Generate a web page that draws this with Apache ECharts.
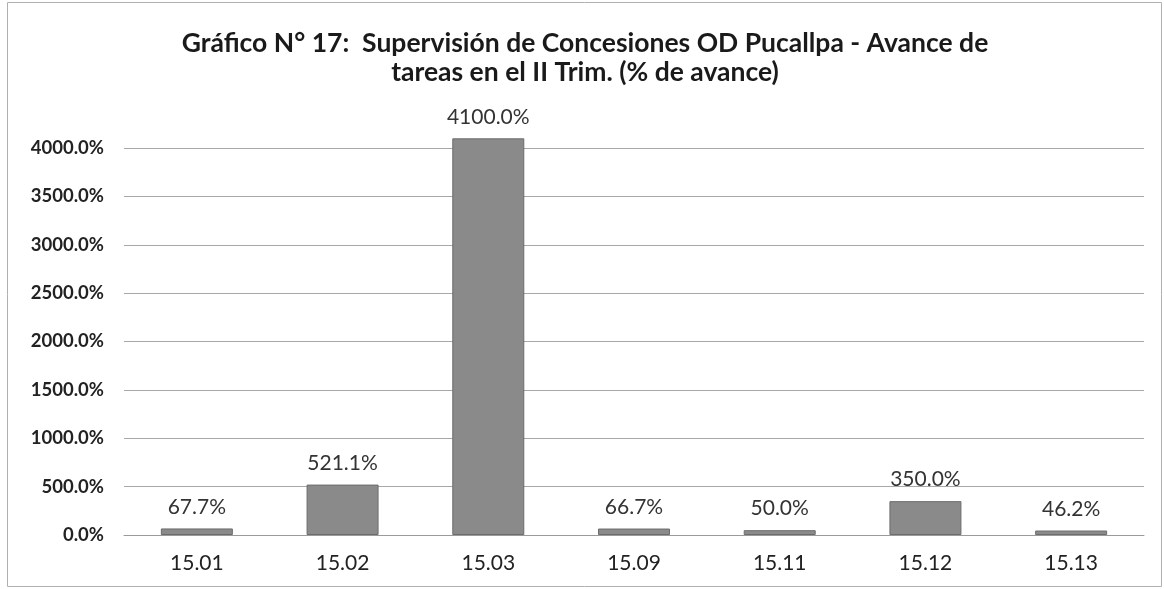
<!DOCTYPE html>
<html>
<head>
<meta charset="utf-8">
<script src="https://cdn.jsdelivr.net/npm/echarts@6/dist/echarts.min.js"></script>
<style>
html,body{margin:0;padding:0;background:#fff;}
#chart{width:1164px;height:589px;}
</style>
</head>
<body>
<div id="chart"></div>
<script>
const titleLines = ["Gráfico N° 17:  Supervisión de Concesiones OD Pucallpa - Avance de", "tareas en el II Trim. (% de avance)"];
const categories = ["15.01", "15.02", "15.03", "15.09", "15.11", "15.12", "15.13"];
const avance = [67.7, 521.1, 4100.0, 66.7, 50.0, 350.0, 46.2];
const yTicks = [0, 500, 1000, 1500, 2000, 2500, 3000, 3500, 4000];

const FONT = 'Lato, "Open Sans", sans-serif';
const chart = echarts.init(document.getElementById('chart'));
chart.setOption({
  backgroundColor: '#ffffff',
  animation: false,
  title: {
    text: titleLines.join('\n'),
    left: 580,
    textAlign: 'center',
    top: 24,
    textStyle: { fontFamily: FONT, fontWeight: 'bold', fontSize: 26.5, lineHeight: 29, color: '#1a1a1a' }
  },
  graphic: [{
    type: 'rect',
    shape: { x: 7.5, y: 2.5, width: 1154, height: 584 },
    style: { fill: 'none', stroke: '#b0b0b0', lineWidth: 1 },
    silent: true
  }],
  grid: { left: 124, right: 20, top: 148, bottom: 54, containLabel: false },
  xAxis: {
    type: 'category',
    data: categories,
    axisLine: { show: true, lineStyle: { color: '#9a9a9a', width: 1 } },
    axisTick: { show: false },
    axisLabel: { fontFamily: FONT, fontSize: 21, color: '#222', margin: 18 }
  },
  yAxis: {
    type: 'value',
    min: yTicks[0],
    max: yTicks[yTicks.length - 1],
    interval: 500,
    axisLine: { show: false },
    axisTick: { show: false },
    splitLine: { show: true, lineStyle: { color: '#a8a8a8', width: 1 } },
    axisLabel: {
      fontFamily: FONT, fontWeight: 'bold', fontSize: 18.5, color: '#222', margin: 20,
      formatter: v => v.toFixed(1) + '%'
    }
  },
  series: [{
    type: 'bar',
    data: avance,
    barWidth: 72,
    clip: false,
    itemStyle: { color: '#8a8a8a', borderColor: '#6c6c6c', borderWidth: 1 },
    label: {
      show: true,
      position: 'top',
      distance: 11,
      fontFamily: FONT,
      fontSize: 21,
      color: '#333',
      formatter: p => p.value.toFixed(1) + '%'
    }
  }]
});
</script>
</body>
</html>
